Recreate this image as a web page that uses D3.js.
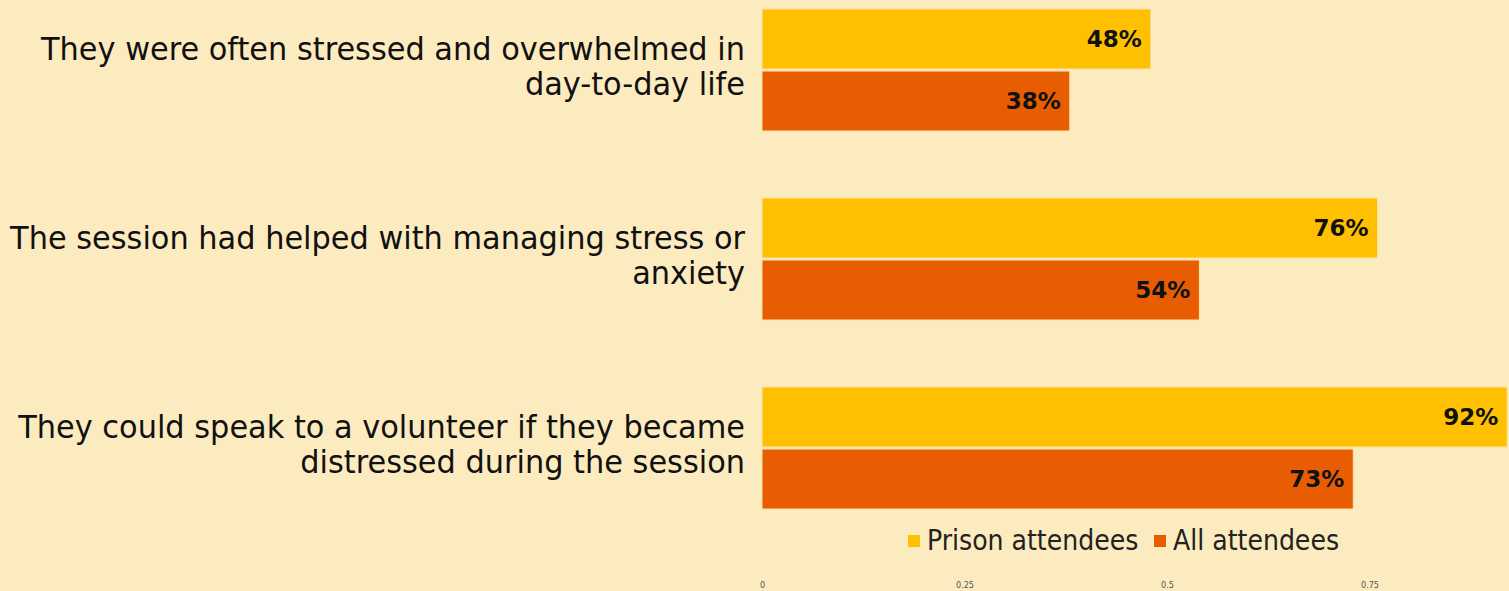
<!DOCTYPE html>
<html><head><meta charset="utf-8">
<script src="https://cdn.jsdelivr.net/npm/d3@7"></script>
<style>body{margin:0;background:#FDEBC0;}svg{display:block;}</style>
</head><body>
<svg id="c" width="1509" height="591"></svg>
<script>
const categories = [
  ["They were often stressed and overwhelmed in","day-to-day life"],
  ["The session had helped with managing stress or","anxiety"],
  ["They could speak to a volunteer if they became","distressed during the session"]
];
const seriesNames = ["Prison attendees","All attendees"];
const prisonValues = [0.48, 0.76, 0.92];
const allValues = [0.38, 0.54, 0.73];
const tickValues = [0, 0.25, 0.5, 0.75];
const colors = ["#FFC000","#E85D02"];

const svg = d3.select("#c");
svg.append("rect").attr("width",1509).attr("height",591).attr("fill","#FDEBC0");

const x = d3.scaleLinear().domain([0,1]).range([762,1572]);
const y0 = d3.scaleBand().domain(d3.range(categories.length)).range([0,567]).paddingInner(0.0).paddingOuter(0);
const y1 = d3.scaleBand().domain([0,1]).range([9,131]).paddingInner(0.033);

const data = categories.map((c,i)=>({c, vals:[prisonValues[i], allValues[i]]}));

const g = svg.selectAll("g.cat").data(data).join("g").attr("class","cat")
  .attr("transform",(d,i)=>`translate(0,${y0(i)})`);

g.selectAll("rect.bar").data(d=>d.vals).join("rect").attr("class","bar")
  .attr("x",x(0)).attr("y",(d,j)=>y1(j)).attr("width",d=>x(d)-x(0)).attr("height",y1.bandwidth())
  .attr("fill",(d,j)=>colors[j]).attr("stroke","#FDE3A8").attr("stroke-width",1);

g.selectAll("text.val").data(d=>d.vals).join("text").attr("class","val")
  .attr("x",d=>x(d)-9).attr("y",(d,j)=>y1(j)+y1.bandwidth()/2+8)
  .attr("text-anchor","end").attr("font-family","DejaVu Sans").attr("font-weight","bold")
  .attr("font-size",23).attr("fill","#111").text(d=>Math.round(d*100)+"%");

g.each(function(d){
  const cy = (y1(0)+y1(1)+y1.bandwidth())/2;
  const t = d3.select(this).append("text").attr("text-anchor","end")
    .attr("font-family","DejaVu Sans Condensed").attr("font-size",32).attr("fill","#111");
  d.c.forEach((line,k)=>{
    const ts = t.append("tspan").attr("x",745).attr("y",cy-10+k*35).text(line);
    const w = ts.node().getComputedTextLength();
    ts.attr("textLength", w*1.055).attr("lengthAdjust","spacingAndGlyphs");
  });
});

// axis
const axis = d3.axisBottom(x).tickValues(tickValues).tickSize(0).tickFormat(d3.format(""));
const ax = svg.append("g").attr("transform","translate(0,579)").call(axis);
ax.select(".domain").remove();
ax.selectAll("text").attr("font-family","DejaVu Sans Condensed").attr("font-size",9).attr("fill","#555");

// legend
const leg = svg.append("g").attr("transform","translate(0,541)");
const legX = [908, 1154];
seriesNames.forEach((n,i)=>{
  leg.append("rect").attr("x",legX[i]).attr("y",-6).attr("width",12).attr("height",12).attr("fill",colors[i]);
  leg.append("text").attr("x",legX[i]+19).attr("y",9).attr("font-family","DejaVu Sans Condensed")
    .attr("font-size",28).attr("fill","#222").text(n);
});
</script>
</body></html>
